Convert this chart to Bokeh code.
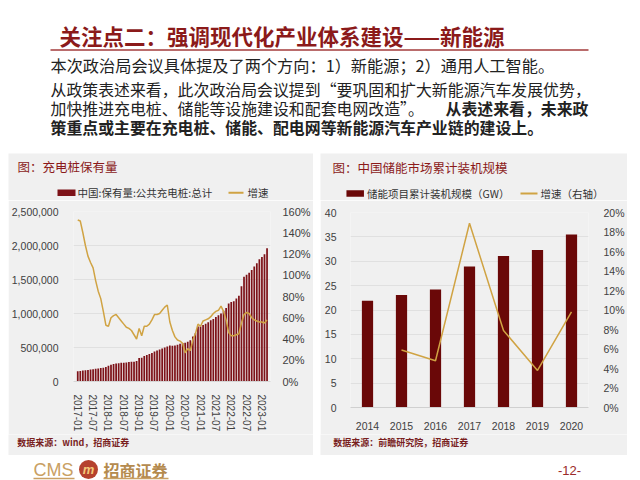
from bokeh.plotting import figure
from bokeh.layouts import column, row, Spacer
from bokeh.models import (Range1d, FactorRange, LinearAxis, FixedTicker,
                          NumeralTickFormatter, PrintfTickFormatter)
from bokeh.core.properties import value
from bokeh.embed import file_html
from bokeh.resources import INLINE

# ---------------- data ----------------
# China public charging piles, monthly 2017-01 .. 2023-03
pile_counts = [
    152000, 156000, 160000, 165000, 170000, 175000, 181000, 186000, 192000, 198000, 204000, 214000,
    232000, 245000, 259000, 265000, 270000, 275000, 277000, 280000, 285000, 290000, 292000, 300000,
    345000, 350000, 375000, 390000, 405000, 420000, 440000, 455000, 470000, 485000, 500000, 516000,
    530000, 525000, 530000, 540000, 555000, 565000, 570000, 585000, 605000, 660000, 710000, 807000,
    810000, 830000, 850000, 870000, 900000, 920000, 950000, 975000, 1000000, 1040000, 1080000, 1147000,
    1170000, 1180000, 1220000, 1260000, 1400000, 1540000, 1570000, 1600000, 1640000, 1690000, 1740000, 1797000,
    1830000, 1870000, 1960000,
]
# year-on-year growth, %
pile_growth = [
    152, 151, 140, 128, 118, 112, 107, 95, 85, 78, 66, 53,
    52, 60, 62, 63, 60, 57, 54, 51, 50, 48, 44, 40,
    50, 43, 52, 52, 54, 58, 63, 63, 64, 67, 70, 72,
    56, 48, 42, 39, 38, 36, 27, 31, 29, 39, 45, 54,
    52, 57, 58, 59, 61, 64, 66, 67, 71, 66, 58, 46,
    43, 43, 44, 45, 55, 63, 65, 64, 60, 58, 57, 56,
    56, 55, 58,
]
pile_tick_labels = ["2017-01", "2017-07", "2018-01", "2018-07", "2019-01", "2019-07",
                    "2020-01", "2020-07", "2021-01", "2021-07", "2022-01", "2022-07", "2023-01"]
pile_tick_step = 6

storage_years = ["2014", "2015", "2016", "2017", "2018", "2019", "2020"]
storage_gw = [21.9, 23.1, 24.2, 28.9, 31.1, 32.3, 35.5]
storage_growth = [None, 5.9, 4.8, 18.9, 7.9, 3.8, 9.8]

# ---------------- texts ----------------
TITLE = "关注点二：强调现代化产业体系建设——新能源"
BODY1 = "本次政治局会议具体提及了两个方向：1）新能源；2）通用人工智能。"
BODY2 = "从政策表述来看，此次政治局会议提到“要巩固和扩大新能源汽车发展优势，"
BODY3A = "加快推进充电桩、储能等设施建设和配套电网改造”。"
BODY3B = "从表述来看，未来政"
BODY4 = "策重点或主要在充电桩、储能、配电网等新能源汽车产业链的建设上。"
L_TITLE = "图：充电桩保有量"
L_LEG1 = "中国:保有量:公共充电桩:总计"
L_LEG2 = "增速"
L_SRC = "数据来源：wind，招商证券"
R_TITLE = "图：中国储能市场累计装机规模"
R_LEG1 = "储能项目累计装机规模（GW）"
R_LEG2 = "增速（右轴）"
R_SRC = "数据来源：前瞻研究院，招商证券"

# ---------------- styles ----------------
CJK = "Noto Sans CJK SC"
LAT = "Liberation Sans"
RED = "#8b1a1a"
BAR_L = "#7d1218"
BAR_R = "#6a0808"
GOLD = "#d0a343"
GRAY = "#f0f0f0"
GRID = "#e0e0e0"
TXT = "#222222"
TICK = "#404040"


def canvas(x0, x1, y0, y1, bg):
    p = figure(width=x1 - x0, height=y1 - y0,
               x_range=Range1d(x0, x1), y_range=Range1d(y1, y0),
               output_backend="svg", toolbar_location=None, min_border=0,
               x_axis_location=None, y_axis_location=None,
               background_fill_color=bg, border_fill_color=bg,
               outline_line_color=None)
    p.xgrid.grid_line_color = None
    p.ygrid.grid_line_color = None
    return p


def txt(p, x, y, s, size, color=TXT, style="normal", align="left", font=CJK):
    p.text(x=[x], y=[y], text=[s], text_font=value(font),
           text_font_size=value(f"{size}px"), text_color=color,
           text_font_style=style, text_align=align, text_baseline="middle")


def style_axis(ax, size, standoff):
    ax.axis_line_color = None
    ax.major_tick_line_color = None
    ax.minor_tick_line_color = None
    ax.major_label_text_font = LAT
    ax.major_label_text_font_size = f"{size}px"
    ax.major_label_text_color = TICK
    ax.major_label_standoff = standoff


# ---------------- header ----------------
hdr = canvas(0, 640, 0, 153, "white")
txt(hdr, 59, 34.5, TITLE, 21.5, RED, "bold")
hdr.line(x=[50, 588], y=[49.5, 49.5], line_color="#a33b3b", line_width=1.5)
txt(hdr, 50, 64, BODY1, 16.2)
txt(hdr, 50, 88.5, BODY2, 15.9)
txt(hdr, 50, 107.5, BODY3A, 15.9)
txt(hdr, 588, 107.5, BODY3B, 15.9, TXT, "bold", "right")
txt(hdr, 50, 127, BODY4, 15.9, TXT, "bold")

# ---------------- left panel ----------------
lt = canvas(8, 313, 153, 200, GRAY)
txt(lt, 17, 166, L_TITLE, 12.5, RED)
lt.rect(x=[66], y=[192.3], width=18, height=6.5, fill_color=BAR_L, line_color=None)
txt(lt, 77, 192.3, L_LEG1, 10.5, "#333333")
lt.line(x=[228, 243], y=[192.3, 192.3], line_color=GOLD, line_width=2)
txt(lt, 247, 192.3, L_LEG2, 10.5, "#333333")

idx = list(range(len(pile_counts)))
lc = figure(width=305, height=234, x_range=Range1d(-1.66, 75.35),
            y_range=Range1d(0, 2500000), output_backend="svg", toolbar_location=None,
            min_border_left=64, min_border_right=41, min_border_top=11, min_border_bottom=52,
            background_fill_color=GRAY, border_fill_color=GRAY, outline_line_color=None)
lc.vbar(x=idx, top=pile_counts, width=0.68, fill_color=BAR_L, line_color=None)
lc.extra_y_ranges = {"g": Range1d(0, 160)}
lc.line(x=idx, y=pile_growth, y_range_name="g", line_color=GOLD, line_width=1.5)
rax = LinearAxis(y_range_name="g", ticker=FixedTicker(ticks=list(range(0, 161, 20))),
                 formatter=PrintfTickFormatter(format="%d%%"))
lc.add_layout(rax, "right")
lax = lc.yaxis[0]
lax.ticker = FixedTicker(ticks=list(range(0, 2500001, 500000)))
lax.formatter = NumeralTickFormatter(format="0,0")
style_axis(lax, 10.5, 9)
style_axis(rax, 11, 6)
xax = lc.xaxis[0]
tick_pos = [i * pile_tick_step for i in range(len(pile_tick_labels))]
xax.ticker = FixedTicker(ticks=tick_pos)
xax.major_label_overrides = {t: s for t, s in zip(tick_pos, pile_tick_labels)}
style_axis(xax, 10, 7)
xax.axis_line_color = "#d6d6d6"
xax.major_label_orientation = "vertical"
lc.xgrid.grid_line_color = None
lc.ygrid.grid_line_color = GRID
lc.ygrid.ticker = FixedTicker(ticks=list(range(0, 2500001, 500000)))

ls = canvas(8, 313, 434, 455, GRAY)
txt(ls, 16.7, 441.7, L_SRC, 9, "#7a1f1f", "bold")

# ---------------- right panel ----------------
rt = canvas(320, 627, 153, 200, GRAY)
txt(rt, 332, 166.5, R_TITLE, 12.5, RED)
rt.rect(x=[354.7], y=[193], width=17.5, height=6.5, fill_color=BAR_R, line_color=None)
txt(rt, 366.5, 193, R_LEG1, 10.5, "#333333")
rt.line(x=[520, 537], y=[193, 193], line_color=GOLD, line_width=2)
txt(rt, 540, 193, R_LEG2, 10.5, "#333333")

rc = figure(width=307, height=234, x_range=FactorRange(*storage_years),
            y_range=Range1d(0, 40), output_backend="svg", toolbar_location=None,
            min_border_left=30, min_border_right=38, min_border_top=12, min_border_bottom=27,
            background_fill_color=GRAY, border_fill_color=GRAY, outline_line_color=None)
rc.vbar(x=storage_years, top=storage_gw, width=0.33, fill_color=BAR_R, line_color=None)
rc.extra_y_ranges = {"g": Range1d(0, 20)}
gy = [y for y, g in zip(storage_years, storage_growth) if g is not None]
gv = [g for g in storage_growth if g is not None]
rc.line(x=gy, y=gv, y_range_name="g", line_color=GOLD, line_width=1.5)
rrax = LinearAxis(y_range_name="g", ticker=FixedTicker(ticks=list(range(0, 21, 2))),
                  formatter=PrintfTickFormatter(format="%d%%"))
rc.add_layout(rrax, "right")
rlax = rc.yaxis[0]
rlax.ticker = FixedTicker(ticks=list(range(0, 41, 5)))
style_axis(rlax, 10.5, 8)
style_axis(rrax, 10.5, 9)
rxax = rc.xaxis[0]
style_axis(rxax, 10.5, 8)
rxax.axis_line_color = "#d0d0d0"
rc.xgrid.grid_line_color = None
rc.ygrid.grid_line_color = GRID
rc.ygrid.ticker = FixedTicker(ticks=list(range(0, 41, 5)))

rs = canvas(320, 627, 434, 455, GRAY)
txt(rs, 332.7, 441.7, R_SRC, 9, "#7a1f1f", "bold")

# ---------------- footer ----------------
ft = canvas(0, 640, 455, 480, "white")
txt(ft, 33, 469, "CMS", 18, "#c9a063", "normal", "left", LAT)
ft.line(x=[33, 74], y=[478, 478], line_color="#c9a063", line_width=1.5)
ft.circle(x=[88], y=[469], radius=9.5, fill_color="#b5422e", line_color=None)
txt(ft, 88, 469, "m", 13, "#f3c878", "bold italic", "center", LAT)
txt(ft, 103, 469, "招商证券", 16, "#b48a4e", "bold")
ft.line(x=[103, 168], y=[478, 478], line_color="#c9a063", line_width=1.5)
txt(ft, 569, 470, "-12-", 13, "#9b2a2a", "normal", "center", LAT)

# ---------------- layout ----------------
left_panel = column(column(lt), column(lc), column(ls), spacing=0)
right_panel = column(column(rt), column(rc), column(rs), spacing=0)
mid = row(Spacer(width=8, height=302), left_panel, Spacer(width=7, height=302),
          right_panel, Spacer(width=13, height=302), spacing=0)
page = column(hdr, mid, ft, spacing=0)

open("out.html", "w").write(file_html(page, INLINE))
